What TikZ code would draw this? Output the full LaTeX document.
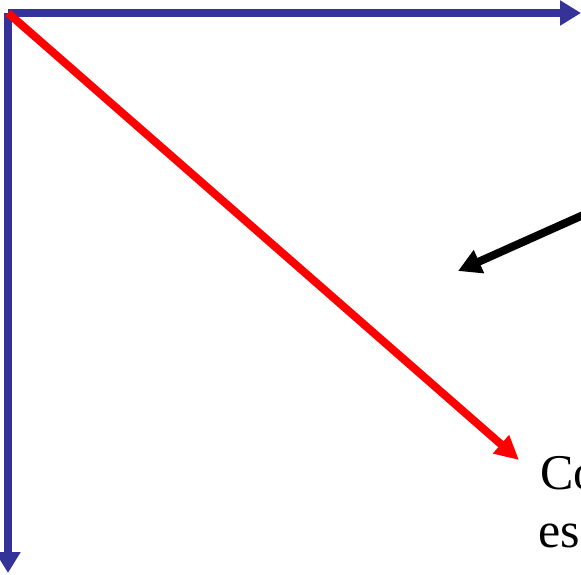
\documentclass[tikz,border=0pt]{standalone}
\usepackage{fontspec}
\setmainfont{Liberation Serif}
\usetikzlibrary{arrows.meta}
\definecolor{axisblue}{RGB}{51,51,153}
\begin{document}
\begin{tikzpicture}[x=1pt,y=-1pt,
  axis/.style={draw=axisblue,line width=8pt,-{Triangle[length=21pt,width=24pt]}},
  redarrow/.style={draw=red,line width=8pt,-{Triangle[length=24pt,width=23pt]}},
  blackarrow/.style={draw=black,line width=8pt,-{Triangle[length=23pt,width=24pt]}},
  lbl/.style={anchor=base west,inner sep=0pt,font=\fontsize{50}{58}\selectfont}]
\useasboundingbox (0,0) rectangle (581,574);
\coordinate (o) at (8,13);
\coordinate (xe) at (581,13);
\coordinate (ye) at (8,573);
\coordinate (re) at (519,460);
\coordinate (bs) at (600,207.5);
\coordinate (be) at (458,271);
\draw[axis] (o) -- (xe);
\draw[axis] (o) -- (ye);
\draw[redarrow] (o) -- (re);
\draw[blackarrow] (bs) -- (be);
\node[lbl] (t1) at (540,489) {Co};
\node[lbl] (t2) at (538,547) {es};
\end{tikzpicture}
\end{document}
